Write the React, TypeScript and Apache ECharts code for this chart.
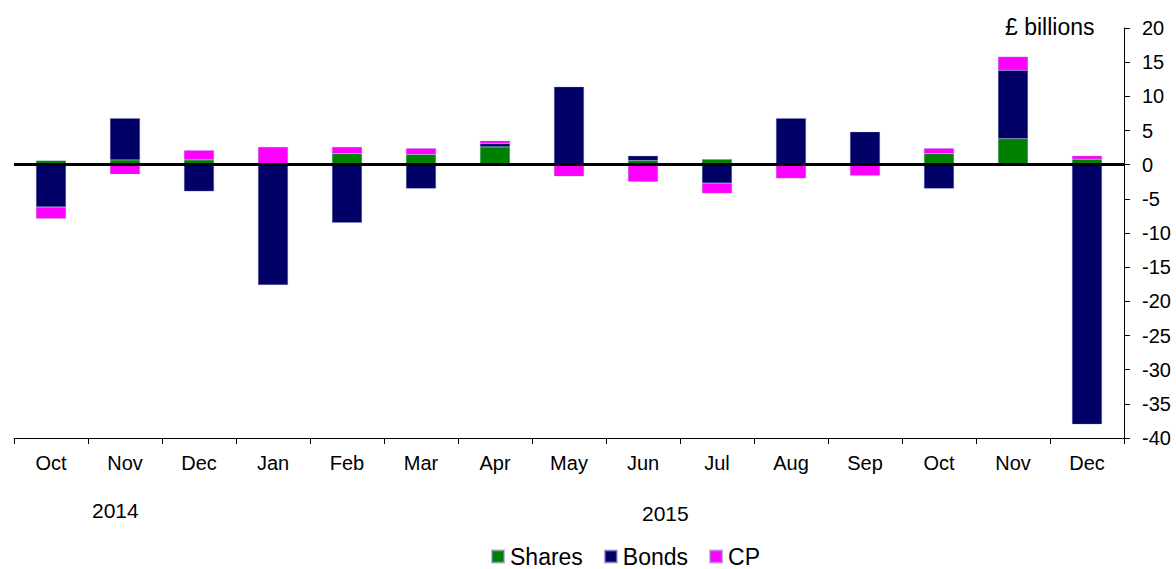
import React, { useEffect, useRef } from "react";
import * as echarts from "echarts";

const months = ["Oct", "Nov", "Dec", "Jan", "Feb", "Mar", "Apr", "May", "Jun", "Jul", "Aug", "Sep", "Oct", "Nov", "Dec"];
const shares = [0.6, 0.7, 0.7, 0, 1.6, 1.5, 2.6, 0.1, 0.6, 0.8, 0, 0, 1.6, 3.8, 0.8];
const bonds = [-6.2, 6.1, -3.9, -17.6, -8.5, -3.5, 0.5, 11.3, 0.7, -2.7, 6.8, 4.8, -3.5, 10.0, -38.0];
const cp = [-1.7, -1.4, 1.4, 2.6, 1.0, 0.9, 0.4, -1.7, -2.5, -1.5, -2.0, -1.6, 0.8, 2.0, 0.5];
const yearLabels = ["2014", "2015"];

const FONT = "'Liberation Sans', Arial, sans-serif";

export default function App() {
  const ref = useRef<HTMLDivElement>(null);
  useEffect(() => {
    document.body.style.margin = "0";
    const chart = echarts.init(ref.current!, null, { renderer: "svg" });
    const barStyle = (color: string) => ({
      color,
      borderColor: "rgba(140,140,200,0.6)",
      borderWidth: 0.5,
    });
    chart.setOption({
      animation: false,
      textStyle: { fontFamily: FONT },
      grid: { left: 14, right: 52, top: 28, bottom: 131, containLabel: false },
      legend: {
        top: 545,
        left: 491,
        padding: 0,
        itemWidth: 12,
        itemHeight: 12,
        itemGap: 21,
        icon: "rect",
        textStyle: { fontSize: 23, color: "#000", fontFamily: FONT, padding: [0, 0, 0, 1] },
        data: ["Shares", "Bonds", "CP"],
      },
      xAxis: {
        type: "category",
        data: months,
        boundaryGap: true,
        axisLine: { show: true, onZero: false, lineStyle: { color: "#000", width: 1 } },
        axisTick: { show: true, interval: 0, alignWithLabel: false, length: 6, lineStyle: { color: "#000" } },
        axisLabel: { interval: 0, fontSize: 20, color: "#000", margin: 15, fontFamily: FONT },
      },
      yAxis: {
        type: "value",
        position: "right",
        min: -40,
        max: 20,
        interval: 5,
        splitLine: { show: false },
        axisLine: { show: true, lineStyle: { color: "#000", width: 1 } },
        axisTick: { show: true, inside: false, length: 6, lineStyle: { color: "#000" } },
        axisLabel: { fontSize: 20, color: "#000", margin: 18, fontFamily: FONT },
      },
      graphic: [
        { type: "text", x: 1005, y: 27, style: { text: "£ billions", fontSize: 23, fill: "#000", fontFamily: FONT, textVerticalAlign: "middle" } },
        { type: "text", x: 92, y: 510, style: { text: yearLabels[0], fontSize: 21, fill: "#000", fontFamily: FONT, textVerticalAlign: "middle" } },
        { type: "text", x: 642, y: 513, style: { text: yearLabels[1], fontSize: 21, fill: "#000", fontFamily: FONT, textVerticalAlign: "middle" } },
      ],
      series: [
        {
          name: "Shares",
          type: "bar",
          stack: "total",
          data: shares,
          barWidth: 30,
          itemStyle: barStyle("#008000"),
        },
        {
          name: "Bonds",
          type: "bar",
          stack: "total",
          data: bonds,
          barWidth: 30,
          itemStyle: barStyle("#000066"),
        },
        {
          name: "CP",
          type: "bar",
          stack: "total",
          data: cp,
          barWidth: 30,
          itemStyle: barStyle("#FF00FF"),
          markLine: {
            silent: true,
            symbol: ["none", "none"],
            label: { show: false },
            lineStyle: { color: "#000", width: 3, type: "solid" },
            data: [{ yAxis: 0 }],
          },
        },
      ],
    });
    return () => chart.dispose();
  }, []);
  return <div ref={ref} style={{ width: 1176, height: 569 }} />;
}
